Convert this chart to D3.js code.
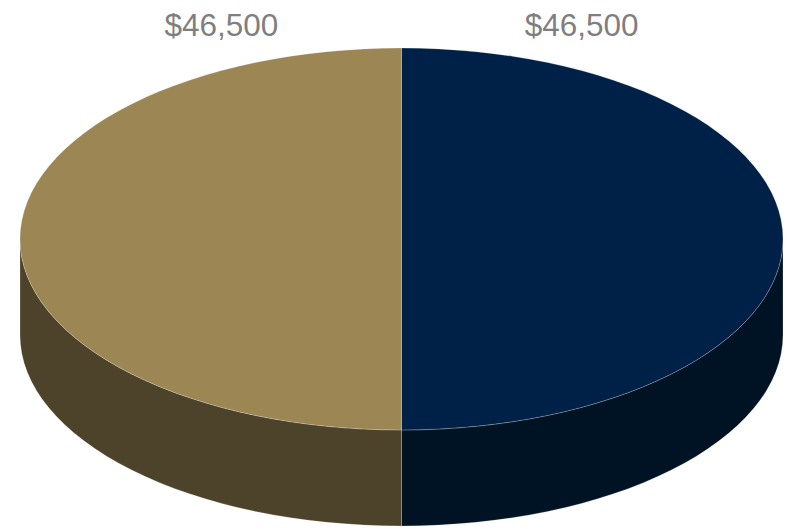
<!DOCTYPE html>
<html>
<head>
<meta charset="utf-8">
<script src="https://cdn.jsdelivr.net/npm/d3@7"></script>
<style>
  html, body { margin: 0; padding: 0; background: #fff; }
  svg { display: block; }
</style>
</head>
<body>
<div id="chart"></div>
<script>
// data
var categories = ["Navy", "Gold"];
var values = [46500, 46500];
var labels = ["$46,500", "$46,500"];
var topColors = ["#002147", "#9b8654"];
var sideColors = ["#001324", "#4d432b"];

var width = 794;
var height = 529;

// pie geometry
var cx = 401.5, cy = 239;
var rx = 381.5, ry = 191;
var depth = 96;

var svg = d3.select("#chart")
  .append("svg")
  .attr("width", width)
  .attr("height", height);

var pie = d3.pie().sort(null).value(function(d) { return d; });
var arcs = pie(values);

function pt(a, dy) {
  return [cx + rx * Math.sin(a), cy - ry * Math.cos(a) + (dy || 0)];
}

// side walls (front half only, angles pi/2 .. 3pi/2)
var sides = svg.append("g").attr("class", "sides");
arcs.forEach(function(d, i) {
  var s = Math.max(d.startAngle, Math.PI / 2);
  var e = Math.min(d.endAngle, 3 * Math.PI / 2);
  if (e <= s) return;
  var p0 = pt(s), p1 = pt(e), p2 = pt(e, depth), p3 = pt(s, depth);
  var large = (e - s) > Math.PI ? 1 : 0;
  var path = "M" + p0 + " A" + rx + "," + ry + " 0 " + large + " 1 " + p1 +
    " L" + p2 + " A" + rx + "," + ry + " 0 " + large + " 0 " + p3 + " Z";
  sides.append("path")
    .attr("d", path)
    .attr("fill", sideColors[i])
    .attr("stroke", "rgba(255,255,255,0.3)")
    .attr("stroke-width", 0.7);
});

// top faces
var tops = svg.append("g").attr("class", "tops");
arcs.forEach(function(d, i) {
  var p0 = pt(d.startAngle), p1 = pt(d.endAngle);
  var large = (d.endAngle - d.startAngle) > Math.PI ? 1 : 0;
  var path = "M" + cx + "," + cy + " L" + p0 +
    " A" + rx + "," + ry + " 0 " + large + " 1 " + p1 + " Z";
  tops.append("path")
    .attr("d", path)
    .attr("fill", topColors[i])
    .attr("stroke", "rgba(255,255,255,0.3)")
    .attr("stroke-width", 0.7);
});

// value labels above the pie
svg.append("g").selectAll("text")
  .data(arcs)
  .enter()
  .append("text")
  .attr("x", function(d) {
    var mid = (d.startAngle + d.endAngle) / 2;
    return cx + Math.sin(mid) * rx * 0.472;
  })
  .attr("y", 36)
  .attr("text-anchor", "middle")
  .attr("font-family", "Liberation Sans, Arial, sans-serif")
  .attr("font-size", 31.5)
  .attr("fill", "#7f7f7f")
  .text(function(d, i) { return labels[i]; });
</script>
</body>
</html>
